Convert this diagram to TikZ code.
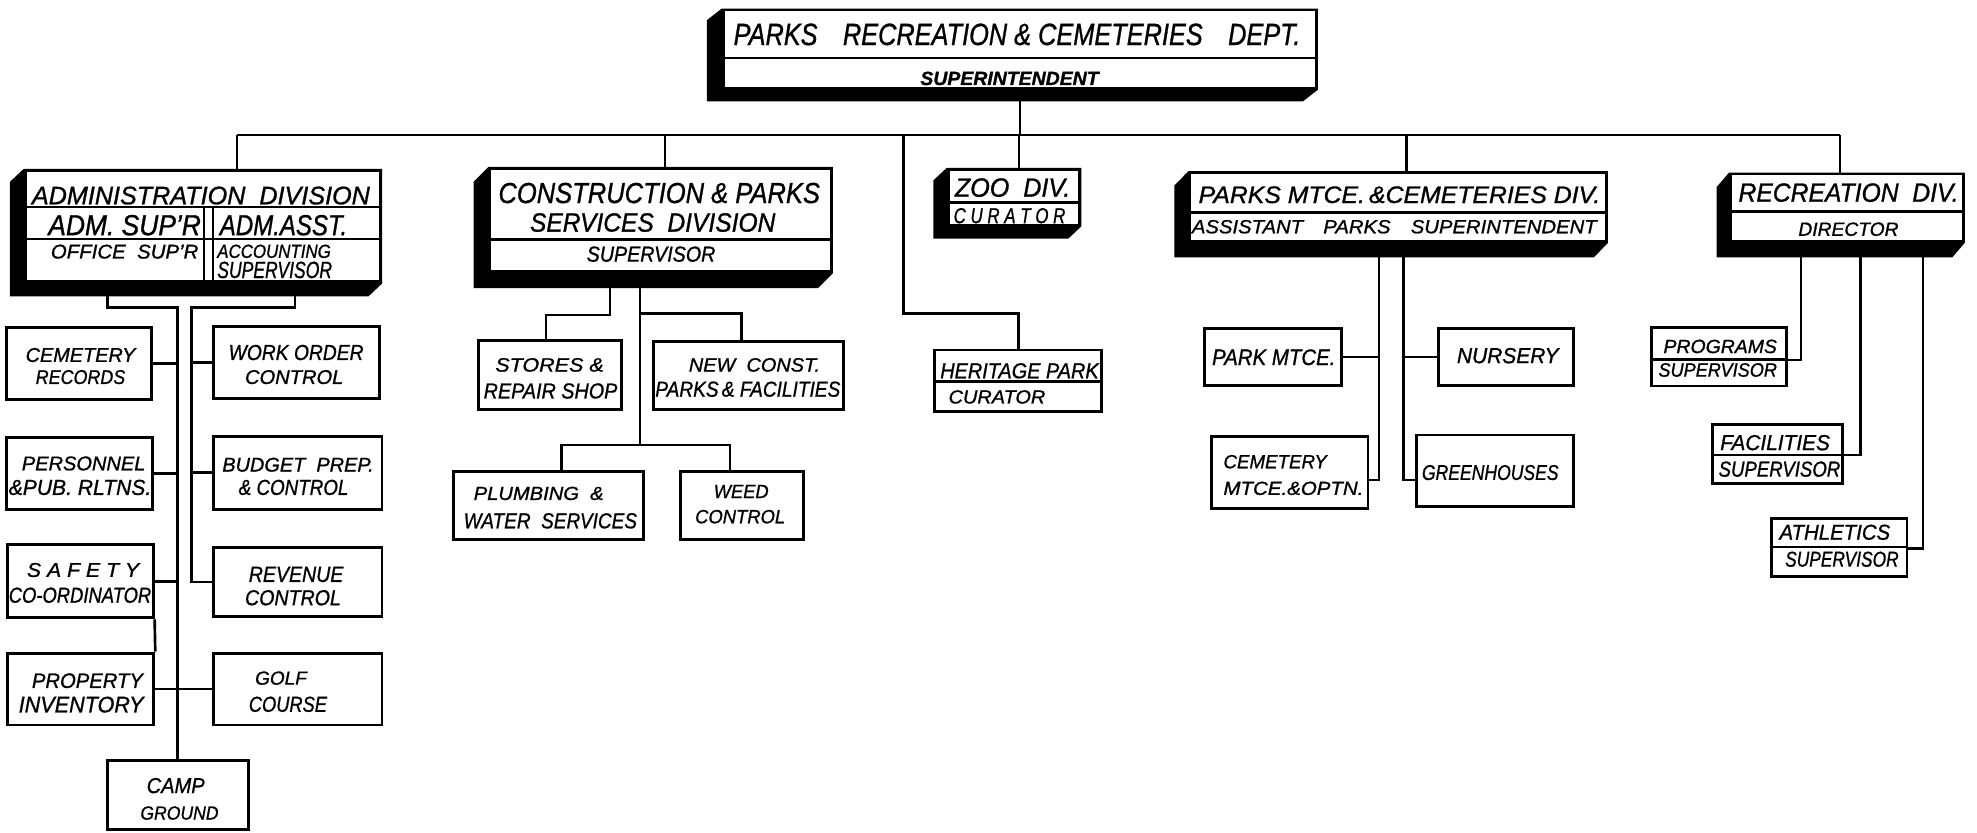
\documentclass[tikz,border=0pt]{standalone}
\usepackage{fontspec}
\setmainfont{Liberation Sans}[FakeBold=1]
\usepackage{graphicx}
\usetikzlibrary{fit,backgrounds}
\newdimen\uu \uu=0.02cm
\newcommand\hw[3]{\resizebox{#1\uu}{#2\uu}{\itshape #3}}
\newcommand\shd[3]{\fill (#1.north west) -- ([shift={(-#2,#3)}]#1.north west) -- ([shift={(-#2,#3)}]#1.south west) -- ([shift={(-#2,#3)}]#1.south east) -- (#1.south east) -- (#1.north east) -- cycle;}
\begin{document}
\begin{tikzpicture}[x=0.02cm,y=-0.02cm,
  frame/.style={draw, fill=white, line width=1.3pt, inner sep=0pt},
  tx/.style={inner sep=0pt, anchor=base west},
  conn/.style={line width=1.2pt},
  dvd/.style={line width=1.1pt}]
\useasboundingbox (0,0) rectangle (1568,660);

% ---------------- frames ----------------
\node[frame, fit={(573.6,7.9)(1044.1,70)}] (top) {};
\node[frame, fit={(20,135)(302,223.6)}] (admin) {};
\node[frame, fit={(388.6,133.5)(659.5,215.4)}] (constr) {};
\node[frame, fit={(752,134.3)(856.5,178.4)}] (zoo) {};
\node[frame, fit={(943.7,136.9)(1274,191.6)}] (parks) {};
\node[frame, fit={(1372.5,138)(1557,191.6)}] (rec) {};

\node[frame, fit={(5.5,260)(120.5,317)}] (cemrec) {};
\node[frame, fit={(169,259)(301,316)}] (workord) {};
\node[frame, fit={(5.5,347)(121,404)}] (person) {};
\node[frame, fit={(169,346)(303,404)}] (budget) {};
\node[frame, fit={(6,432)(121.5,490)}] (safety) {};
\node[frame, fit={(169,434)(303,489)}] (revenue) {};
\node[frame, fit={(6,518)(122,575)}] (property) {};
\node[frame, fit={(169,518)(303,575)}] (golf) {};
\node[frame, fit={(85,603)(197,658)}] (camp) {};

\node[frame, fit={(379.3,270)(493,324.6)}] (stores) {};
\node[frame, fit={(518,271)(668.7,324.6)}] (newc) {};
\node[frame, fit={(359.5,374)(510.7,428)}] (plumb) {};
\node[frame, fit={(539.8,374)(637,428)}] (weed) {};

\node[frame, fit={(741.5,277.6)(873.6,326.5)}] (herit) {};

\node[frame, fit={(955.6,260.4)(1064,306)}] (parkm) {};
\node[frame, fit={(1140.6,260.4)(1247.7,306)}] (nurs) {};
\node[frame, fit={(961,346.3)(1085,403.1)}] (cemm) {};
\node[frame, fit={(1123.5,345)(1247.7,401.8)}] (green) {};

\node[frame, fit={(1309.8,259.6)(1416.9,306.1)}] (prog) {};
\node[frame, fit={(1358.2,337)(1461.3,383.3)}] (fac) {};
\node[frame, fit={(1405,411)(1512.5,457.3)}] (ath) {};

% ---------------- dividers inside boxes ----------------
\draw[dvd] (573.6,46) -- (1044.1,46);
\draw[dvd] (20,164) -- (302,164);
\draw[dvd] (20,189.5) -- (302,189.5);
\draw[dvd] (162,164) -- (162,223.6);
\draw[dvd] (169,164) -- (169,223.6);
\draw[dvd] (388.6,189.8) -- (659.5,189.8);
\draw[dvd] (752,160.7) -- (856.5,160.7);
\draw[dvd] (741.5,302.7) -- (873.6,302.7);
\draw[dvd] (943.7,168.6) -- (1274,168.6);
\draw[dvd] (1372.5,167.9) -- (1557,167.9);
\draw[dvd] (1309.8,285) -- (1416.9,285);
\draw[dvd] (1358.2,360.8) -- (1461.3,360.8);
\draw[dvd] (1405,434) -- (1512.5,434);

% ---------------- texts ----------------
\node[tx] (ttop1) at (581.5,35.7) {\hw{449.5}{17}{PARKS\quad RECREATION \& CEMETERIES\quad DEPT.}};
\node[tx] (ttop2) at (729.6,67.4) {\hw{141.4}{10.6}{\bfseries SUPERINTENDENT}};

\node[tx] (tad1) at (25,162) {\hw{268}{14}{ADMINISTRATION\ \ DIVISION}};
\node[tx] (tad2) at (38,186.5) {\hw{121}{16}{ADM. SUP'R}};
\node[tx] (tad3) at (174,186.5) {\hw{101}{16}{ADM.ASST.}};
\node[tx] (tad4) at (40,205) {\hw{117}{11}{OFFICE\ \ SUP'R}};
\node[tx] (tad5) at (172,204.5) {\hw{90}{10.5}{ACCOUNTING}};
\node[tx] (tad6) at (172,220.5) {\hw{91}{13}{SUPERVISOR}};

\node[tx] (tcr1) at (20,287) {\hw{87}{11}{CEMETERY}};
\node[tx] (tcr2) at (28,304.5) {\hw{71}{11}{RECORDS}};
\node[tx] (two1) at (181,285.5) {\hw{107}{12}{WORK ORDER}};
\node[tx] (two2) at (194,304.5) {\hw{78}{11}{CONTROL}};
\node[tx] (tpe1) at (17,373) {\hw{98}{11}{PERSONNEL}};
\node[tx] (tpe2) at (6.6,392.5) {\hw{113}{12}{\&PUB. RLTNS.}};
\node[tx] (tbu1) at (176,374) {\hw{120}{11}{BUDGET\ \ PREP.}};
\node[tx] (tbu2) at (189,392.5) {\hw{87}{12}{\& CONTROL}};
\node[tx] (tsa1) at (21,457.5) {\hw{89}{11}{S A F E T Y}};
\node[tx] (tsa2) at (6.6,478) {\hw{113}{12}{CO-ORDINATOR}};
\node[tx] (tre1) at (197,461.5) {\hw{75}{12}{REVENUE}};
\node[tx] (tre2) at (194,480) {\hw{76}{12}{CONTROL}};
\node[tx] (tpr1) at (25,545.6) {\hw{88}{11.6}{PROPERTY}};
\node[tx] (tpr2) at (14.5,565) {\hw{99}{12.5}{INVENTORY}};
\node[tx] (tgo1) at (202,543) {\hw{41}{10.5}{GOLF}};
\node[tx] (tgo2) at (197,564.5) {\hw{62}{12}{COURSE}};
\node[tx] (tca1) at (116,629) {\hw{46}{12}{CAMP}};
\node[tx] (tca2) at (111,650) {\hw{62}{10.5}{GROUND}};

\node[tx] (tco1) at (395,161) {\hw{255}{16}{CONSTRUCTION \& PARKS}};
\node[tx] (tco2) at (420,183.7) {\hw{194.6}{14.6}{SERVICES\ \ DIVISION}};
\node[tx] (tco3) at (465,207.5) {\hw{102}{12}{SUPERVISOR}};
\node[tx] (tst1) at (392.5,294.7) {\hw{86}{10.7}{STORES \&}};
\node[tx] (tst2) at (383.3,316) {\hw{106}{12}{REPAIR SHOP}};
\node[tx] (tnc1) at (546,294.7) {\hw{104}{10.7}{NEW\ \ CONST.}};
\node[tx] (tnc2) at (519.4,314.6) {\hw{146.7}{12}{PARKS\,\& FACILITIES}};
\node[tx] (tpl1) at (375.4,396.5) {\hw{103}{10.5}{PLUMBING\ \ \&}};
\node[tx] (tpl2) at (367.4,419) {\hw{137.5}{12}{WATER\ \ SERVICES}};
\node[tx] (twe1) at (565.7,395) {\hw{43.6}{10.4}{WEED}};
\node[tx] (twe2) at (551,415) {\hw{71.4}{10.6}{CONTROL}};

\node[tx] (tzo1) at (757,156) {\hw{91.5}{14.6}{ZOO\ \ DIV.}};
\node[tx] (tzo2) at (756,177) {\hw{88.6}{12}{C U R A T O R}};
\node[tx] (the1) at (745.4,300) {\hw{125.6}{12}{HERITAGE PARK}};
\node[tx] (the2) at (752,320) {\hw{76.7}{10.5}{CURATOR}};

\node[tx] (tpa1) at (950.3,161) {\hw{318.5}{13.2}{PARKS MTCE.\,\&CEMETERIES DIV.}};
\node[tx] (tpa2) at (945,185) {\hw{321}{10.5}{ASSISTANT\quad PARKS\quad SUPERINTENDENT}};
\node[tx] (tpm1) at (961,289.5) {\hw{97.8}{12.5}{PARK MTCE.}};
\node[tx] (tnu1) at (1155.2,288) {\hw{80.6}{12}{NURSERY}};
\node[tx] (tcm1) at (970,371.4) {\hw{82}{10.6}{CEMETERY}};
\node[tx] (tcm2) at (970,392.5) {\hw{111}{10.5}{MTCE.\&OPTN.}};
\node[tx] (tgr1) at (1127.4,380.6) {\hw{108.4}{11.8}{GREENHOUSES}};

\node[tx] (trc1) at (1378.5,160) {\hw{174.5}{14.6}{RECREATION\ \ DIV.}};
\node[tx] (trc2) at (1426,187) {\hw{79.4}{10.6}{DIRECTOR}};
\node[tx] (tpg1) at (1319,280) {\hw{90}{10.6}{PROGRAMS}};
\node[tx] (tpg2) at (1315,298.7) {\hw{94}{10.7}{SUPERVISOR}};
\node[tx] (tfa1) at (1364,357) {\hw{87}{12}{FACILITIES}};
\node[tx] (tfa2) at (1362.7,378) {\hw{96.5}{12}{SUPERVISOR}};
\node[tx] (tat1) at (1411,428) {\hw{87.8}{11.9}{ATHLETICS}};
\node[tx] (tat2) at (1415.5,449.4) {\hw{90}{11.9}{SUPERVISOR}};

% ---------------- junction coordinates ----------------
\coordinate (busL) at (188,107);
\coordinate (busR) at (1459.2,107);
\coordinate (bC) at (527.4,107);
\coordinate (bH) at (716.4,107);
\coordinate (hJ) at (716.4,248.5);
\coordinate (bZ) at (808.3,107);
\coordinate (bP) at (1115.5,107);

\coordinate (aL) at (85,244);
\coordinate (aR) at (234,244);
\coordinate (lt) at (141,244);
\coordinate (rt) at (152,244);

\coordinate (cl) at (483.7,249.8);
\coordinate (sj) at (433,249.8);
\coordinate (crb) at (507.5,248.5);
\coordinate (nj) at (588,248.5);
\coordinate (cr) at (507.5,352.9);
\coordinate (pl) at (445.4,352.9);
\coordinate (pr) at (579,352.9);

\coordinate (pkl) at (1093.8,380.6);
\coordinate (pkr) at (1112.9,380.6);

\coordinate (r1) at (1428.3,285.5);
\coordinate (r2) at (1475.5,360.8);
\coordinate (r3) at (1525.2,434.8);

% ---------------- connectors ----------------
\draw[conn] (top.south) -- (top.south |- busL);
\draw[conn] (busL) -- (busR);
\draw[conn] (busL) -- (busL |- admin.north);
\draw[conn] (bC) -- (bC |- constr.north);
\draw[conn] (bH) -- (hJ) -| (herit.north);
\draw[conn] (bZ) -- (bZ |- zoo.north);
\draw[conn] (bP) -- (bP |- parks.north);
\draw[conn] (busR) -- (busR |- rec.north);

% administration
\draw[conn] (aL |- admin.south) -- (aL) -- (lt) -- (lt |- camp.north);
\draw[conn] (aR |- admin.south) -- (aR) -- (rt) -- (rt |- revenue.west) -- (revenue.west);
\draw[conn] (cemrec.east) -- (cemrec.east -| lt);
\draw[conn] (person.east) -- (person.east -| lt);
\draw[conn] (safety.east) -- (safety.east -| lt);
\draw[conn] (property.east) -- (golf.west);
\draw[conn] (workord.west) -- (workord.west -| rt);
\draw[conn] (budget.west) -- (budget.west -| rt);
\draw[conn] (safety.south east) -- (property.north east);

% construction
\draw[conn] (cl |- constr.south) -- (cl) -- (sj) -- (sj |- stores.north);
\draw[conn] (crb |- constr.south) -- (cr);
\draw[conn] (crb) -- (nj) -- (nj |- newc.north);
\draw[conn] (pl |- plumb.north) -- (pl) -- (pr) -- (pr |- weed.north);

% parks maintenance
\draw[conn] (pkl |- parks.south) -- (pkl) -- (cemm.east |- pkl);
\draw[conn] (pkr |- parks.south) -- (pkr) -- (green.west |- pkr);
\draw[conn] (parkm.east) -- (parkm.east -| pkl);
\draw[conn] (nurs.west) -- (nurs.west -| pkr);

% recreation
\draw[conn] (r1 |- rec.south) -- (r1) -- (prog.east |- r1);
\draw[conn] (r2 |- rec.south) -- (r2) -- (fac.east |- r2);
\draw[conn] (r3 |- rec.south) -- (r3) -- (ath.east |- r3);

% ---------------- background and shadows ----------------
\begin{scope}[on background layer]
\fill[white] (0,0) rectangle (1568,660);
\shd{top}{11.9}{9.3}
\shd{admin}{11}{10.4}
\shd{constr}{11.9}{11.9}
\shd{zoo}{10.5}{9.8}
\shd{parks}{11.1}{11.4}
\shd{rec}{9.8}{11.4}
\end{scope}
\end{tikzpicture}
\end{document}
